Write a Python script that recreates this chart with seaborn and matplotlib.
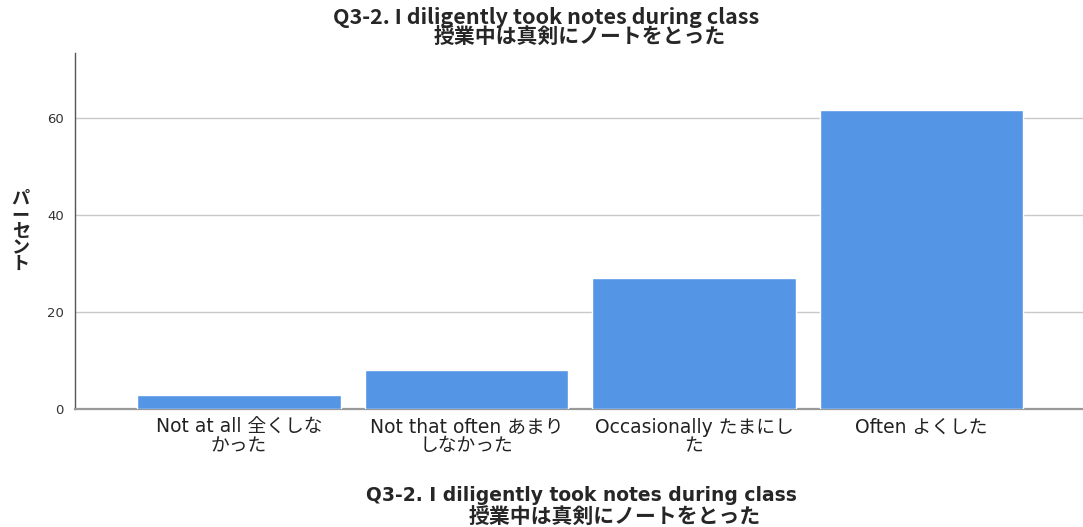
import matplotlib
matplotlib.use("Agg")
import matplotlib.pyplot as plt
import matplotlib.font_manager as fm
import seaborn as sns
import pandas as pd

# Data (percent of respondents)
categories = ["Not at all 全くしな\nかった", "Not that often あまり\nしなかった",
              "Occasionally たまにし\nた", "Often よくした"]
percents = [3.0, 8.1, 27.0, 61.8]
y_ticks = [0, 20, 40, 60]

title_en = "Q3-2. I diligently took notes during class"
title_ja = "授業中は真剣にノートをとった"
ylabel = "パーセント"

df = pd.DataFrame({"category": categories, "percent": percents})

sns.set_theme(style="white")
mixed = ["DejaVu Sans", "Noto Sans CJK JP"]
plt.rcParams["font.family"] = mixed

names = {f.name for f in fm.fontManager.ttflist}
narrow = "Liberation Sans Narrow" if "Liberation Sans Narrow" in names else "Noto Sans CJK JP"

fig = plt.figure(figsize=(10.83, 5.27), dpi=100)
ax = fig.add_axes([0.0693, 0.2233, 0.9307, 0.6761])

sns.barplot(data=df, x="category", y="percent", color="#5595e5", saturation=1,
            width=0.895, ax=ax, zorder=3)

ax.set_xlim(-0.72, 3.71)
ax.set_ylim(0, 73.5)
ax.set_yticks(y_ticks)
ax.yaxis.grid(True, color="#c8c8c8", linewidth=1, zorder=0)
ax.xaxis.grid(False)
ax.tick_params(axis="both", length=0)
ax.tick_params(axis="y", labelsize=9.5, colors="#333333", pad=8)
ax.tick_params(axis="x", labelsize=13.5, colors="#222222", pad=6)
for lbl in ax.get_xticklabels():
    lbl.set_linespacing(0.95)
    lbl.set_fontfamily(mixed)
for lbl in ax.get_yticklabels():
    lbl.set_fontfamily(["DejaVu Sans"])

for side in ["top", "right"]:
    ax.spines[side].set_visible(False)
ax.spines["left"].set_color("#555555")
ax.spines["left"].set_linewidth(1)
ax.spines["bottom"].set_color("#999999")
ax.spines["bottom"].set_linewidth(1.6)

ax.set_xlabel("")
ax.set_ylabel("\n".join(ylabel), rotation=0, fontsize=13, fontweight="bold",
              family=["Noto Sans CJK JP"], linespacing=0.85, va="center")
ax.yaxis.set_label_coords(-0.054, 0.5)

# Titles (top) and axis caption (bottom), one text per line as in the source
fig.text(0.504, 0.967, title_en, ha="center", va="center", fontsize=15.5,
         fontweight="bold", family=[narrow, "Noto Sans CJK JP"])
fig.text(0.535, 0.929, title_ja, ha="center", va="center", fontsize=15,
         fontweight="bold", family=["Noto Sans CJK JP"])
fig.text(0.537, 0.059, title_en, ha="center", va="center", fontsize=13.5,
         fontweight="bold", family=["DejaVu Sans"])
fig.text(0.568, 0.019, title_ja, ha="center", va="center", fontsize=15,
         fontweight="bold", family=["Noto Sans CJK JP"])

fig.savefig("out.png", dpi=100)
